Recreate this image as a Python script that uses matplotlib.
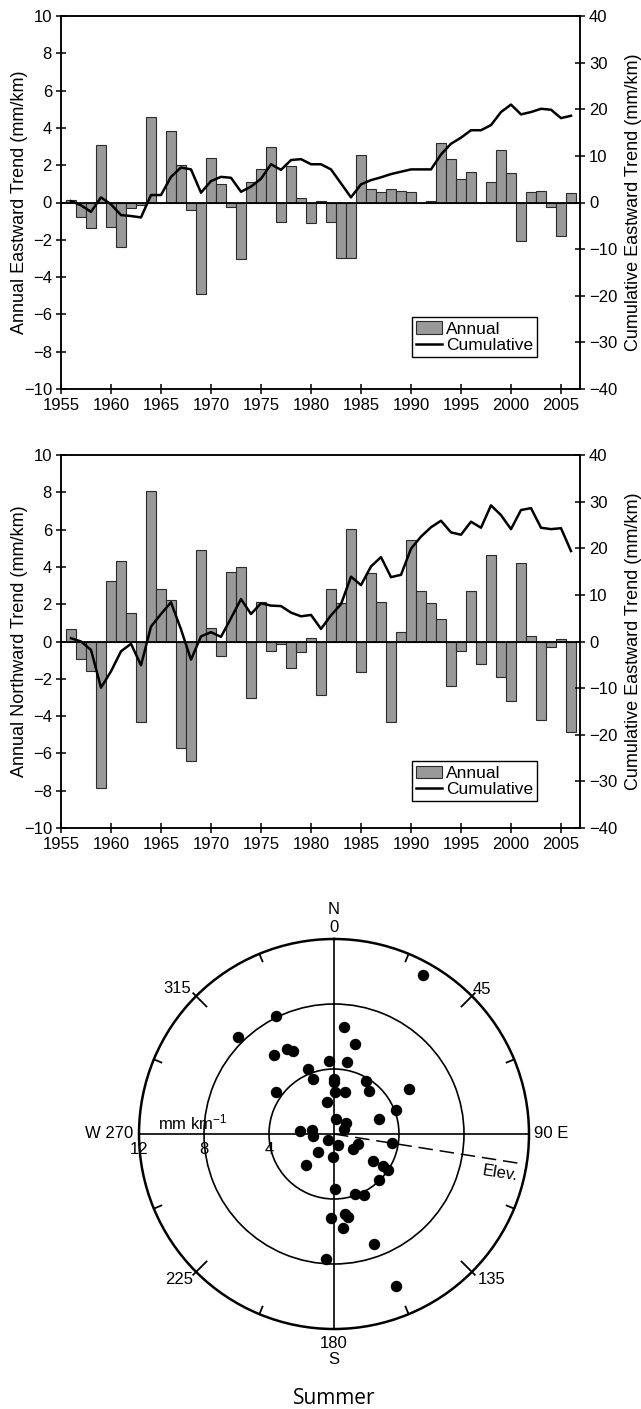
import matplotlib.pyplot as plt
import numpy as np
from matplotlib.transforms import offset_copy

plt.rcParams["font.family"] = ["Liberation Sans", "DejaVu Sans"]
plt.rcParams["mathtext.default"] = "regular"

years = np.arange(1956, 2007)

# annual trends (mm/km) and running totals, one value per year
east_annual = [
    0.12, -0.77, -1.39, 3.10, -1.30, -2.37, -0.32, -0.15, 4.59, 0.00,
    3.84, 2.00, -0.41, -4.88, 2.36, 1.00, -0.23, -3.04, 1.10, 1.79,
    2.98, -1.07, 1.96, 0.25, -1.12, 0.07, -1.07, -2.96, -2.96, 2.54,
    0.71, 0.57, 0.71, 0.62, 0.55, 0.00, 0.07, 3.18, 2.32, 1.25,
    1.66, 0.00, 1.10, 2.79, 1.59, -2.07, 0.55, 0.62, -0.23, -1.77,
    0.50,
]
east_cumulative = [
    0.3, -0.6, -2.0, 1.1, -0.4, -2.7, -2.9, -3.2, 1.6, 1.6,
    5.5, 7.5, 7.1, 2.1, 4.6, 5.5, 5.3, 2.3, 3.4, 5.1,
    8.2, 7.0, 9.1, 9.3, 8.2, 8.2, 7.1, 4.1, 1.1, 3.9,
    4.8, 5.4, 6.1, 6.6, 7.1, 7.1, 7.1, 10.3, 12.6, 13.9,
    15.5, 15.5, 16.6, 19.4, 21.0, 18.9, 19.4, 20.1, 19.9, 18.1,
    18.6,
]
north_annual = [
    0.66, -0.95, -1.60, -7.86, 3.23, 4.29, 1.55, -4.34, 8.09, 2.79,
    2.25, -5.71, -6.43, 4.89, 0.75, -0.80, 3.71, 4.00, -3.05, 2.14,
    -0.50, -0.14, -1.43, -0.57, 0.18, -2.87, 2.80, 2.05, 6.02, -1.66,
    3.68, 2.14, -4.29, 0.50, 5.45, 2.71, 2.09, 1.18, -2.39, -0.50,
    2.71, -1.20, 4.63, -1.88, -3.18, 4.20, 0.29, -4.20, -0.30, 0.12,
    -4.84,
]
north_cumulative = [
    0.7, 0.0, -1.8, -9.9, -6.4, -2.1, -0.5, -5.1, 3.2, 5.9,
    8.4, 2.6, -3.9, 1.1, 2.0, 1.0, 5.0, 9.1, 5.9, 8.2,
    7.7, 7.6, 6.2, 5.4, 5.7, 2.7, 5.6, 8.0, 13.9, 12.1,
    16.1, 18.1, 13.8, 14.3, 19.9, 22.5, 24.5, 25.9, 23.4, 22.9,
    25.7, 24.4, 29.2, 27.1, 24.1, 28.2, 28.6, 24.4, 24.1, 24.3,
    19.4,
]

# summer trend vectors: azimuth (deg from north) and magnitude (mm/km)
summer_azimuth = [
    29.2, 333.7, 315.1, 5.4, 13.0, 322.8, 331.1, 333.7, 356.3, 10.4,
    338.4, 338.8, 0.0, 0.0, 30.8, 305.5, 1.3, 14.4, 39.0, 59.1,
    346.9, 68.9, 71.7, 6.6, 48.3, 63.4, 275.6, 280.3, 264.6, 227.0,
    158.3, 127.4, 112.5, 98.4, 221.4, 183.4, 222.0, 125.1, 122.7, 123.3,
    135.6, 179.0, 160.5, 153.5, 182.3, 172.2, 170.2, 174.3, 160.2, 183.7,
    157.9,
]
summer_magnitude = [
    11.2, 8.1, 8.4, 6.6, 5.7, 6.1, 6.0, 5.7, 4.5, 4.5,
    4.3, 3.6, 3.4, 3.2, 3.8, 4.4, 2.6, 2.7, 3.4, 5.4,
    2.0, 4.1, 2.9, 0.9, 1.0, 0.7, 2.1, 1.4, 1.3, 0.5,
    0.7, 1.5, 1.6, 3.6, 1.5, 1.4, 2.6, 2.9, 3.6, 4.0,
    4.0, 3.4, 3.9, 4.2, 5.2, 5.0, 5.2, 5.8, 7.2, 7.7,
    10.1,
]
elevation_azimuth = 99.0

FIG_W, FIG_H = 641, 1409


def px_box(left, top, right, bottom):
    """Axes rectangle from pixel edges measured from the top-left corner."""
    return [
        left / FIG_W,
        1 - bottom / FIG_H,
        (right - left) / FIG_W,
        (bottom - top) / FIG_H,
    ]


def draw_trend_panel(fig, box, annual, cumulative, left_label, legend_y):
    ax = fig.add_axes(box)

    bars = ax.bar(
        years,
        annual,
        width=1.0,
        color="#999999",
        edgecolor="#2a2a2a",
        linewidth=0.8,
        label="Annual",
        zorder=2,
    )
    ax.axhline(0, color="black", linewidth=1.3, zorder=3)

    ax.set_xlim(1955, 2006.9)
    ax.set_ylim(-10, 10)
    ax.set_xticks(range(1955, 2006, 5))
    ax.set_yticks(range(-10, 11, 2))
    ax.set_ylabel(left_label, fontsize=13)
    ax.yaxis.set_label_coords(-0.064, 0.5)

    ax2 = ax.twinx()
    (line,) = ax2.plot(
        years,
        cumulative,
        color="black",
        linewidth=1.8,
        label="Cumulative",
    )
    ax2.set_ylim(-40, 40)
    ax2.set_yticks(range(-40, 41, 10))
    ax2.set_ylabel("Cumulative Eastward Trend (mm/km)", fontsize=13)
    ax2.yaxis.set_label_coords(1.087, 0.5)

    for axis in (ax, ax2):
        axis.tick_params(
            direction="inout",
            length=7,
            width=1.1,
            labelsize=12,
            pad=3,
        )
        for spine in axis.spines.values():
            spine.set_linewidth(1.1)

    legend = ax2.legend(
        handles=[bars, line],
        loc="lower left",
        bbox_to_anchor=(0.676, legend_y),
        fancybox=False,
        edgecolor="black",
        framealpha=1,
        fontsize=12.5,
        handlelength=1.5,
        handletextpad=0.2,
        labelspacing=0.05,
        borderpad=0.25,
        borderaxespad=0,
    )
    legend.get_frame().set_linewidth(1.0)


def draw_summer_rose(fig):
    pax = fig.add_axes(px_box(139, 939, 529, 1329), projection="polar")
    pax.set_theta_zero_location("N")
    pax.set_theta_direction(-1)
    pax.set_ylim(0, 12)
    pax.set_thetagrids([0, 90, 180, 270], labels=[])
    pax.set_rgrids([4, 8], labels=[])
    pax.grid(True, color="black", linewidth=1.2, linestyle="-")
    pax.tick_params(length=0)
    pax.spines["polar"].set_linewidth(1.8)

    # compass ticks round the outer ring
    for angle in np.arange(22.5, 360, 22.5):
        if angle % 90 == 0:
            continue
        inner, outer = (11.1, 12.25) if angle % 45 == 0 else (11.5, 12.0)
        pax.plot(
            [np.radians(angle)] * 2,
            [inner, outer],
            color="black",
            linewidth=1.3,
            clip_on=False,
        )

    pax.plot(
        [np.radians(elevation_azimuth)] * 2,
        [0, 11.8],
        color="black",
        linewidth=1.1,
        linestyle=(0, (9.5, 4.5)),
        zorder=4,
    )

    pax.scatter(
        np.radians(summer_azimuth),
        summer_magnitude,
        s=52,
        color="black",
        zorder=5,
        clip_on=False,
    )

    def shifted(dx=0, dy=0):
        return offset_copy(pax.transData, fig=fig, x=dx, y=dy, units="dots")

    text_style = dict(fontsize=12, ha="center", va="center")
    pax.text(0, 12, "0", transform=shifted(dy=12), **text_style)
    pax.text(0, 12, "N", transform=shifted(dy=29), **text_style)
    pax.text(np.pi, 12, "180", transform=shifted(dy=-14), **text_style)
    pax.text(np.pi, 12, "S", transform=shifted(dy=-31), **text_style)
    pax.text(
        np.radians(270), 12, "W 270",
        transform=shifted(dx=-6), fontsize=12, ha="right", va="center",
    )
    pax.text(
        np.radians(90), 12, "90 E",
        transform=shifted(dx=5), fontsize=12, ha="left", va="center",
    )
    for angle, radius, label in [
        (45.6, 12.74, "45"),
        (132.7, 13.2, "135"),
        (226.8, 13.1, "225"),
        (313.0, 13.17, "315"),
    ]:
        pax.text(np.radians(angle), radius, label, **text_style)

    for ring in (12, 8, 4):
        pax.text(
            np.radians(270), ring, str(ring),
            transform=shifted(dy=-15), **text_style,
        )

    pax.text(np.radians(274.5), 8.7, "mm km$^{-1}$", **text_style)
    pax.text(
        np.radians(103.2), 10.5, "Elev.",
        rotation=-9, rotation_mode="anchor", **text_style,
    )


fig = plt.figure(figsize=(FIG_W / 100, FIG_H / 100), dpi=100)

draw_trend_panel(
    fig,
    px_box(61, 16, 580, 389),
    east_annual,
    east_cumulative,
    "Annual Eastward Trend (mm/km)",
    legend_y=0.086,
)
draw_trend_panel(
    fig,
    px_box(61, 455, 580, 828),
    north_annual,
    north_cumulative,
    "Annual Northward Trend (mm/km)",
    legend_y=0.072,
)
draw_summer_rose(fig)

fig.text(
    334 / FIG_W,
    1 - 1399 / FIG_H,
    "Summer",
    ha="center",
    va="center",
    fontsize=15,
    family=["Open Sans", "DejaVu Sans"],
)

fig.savefig("out.png", dpi=100)
